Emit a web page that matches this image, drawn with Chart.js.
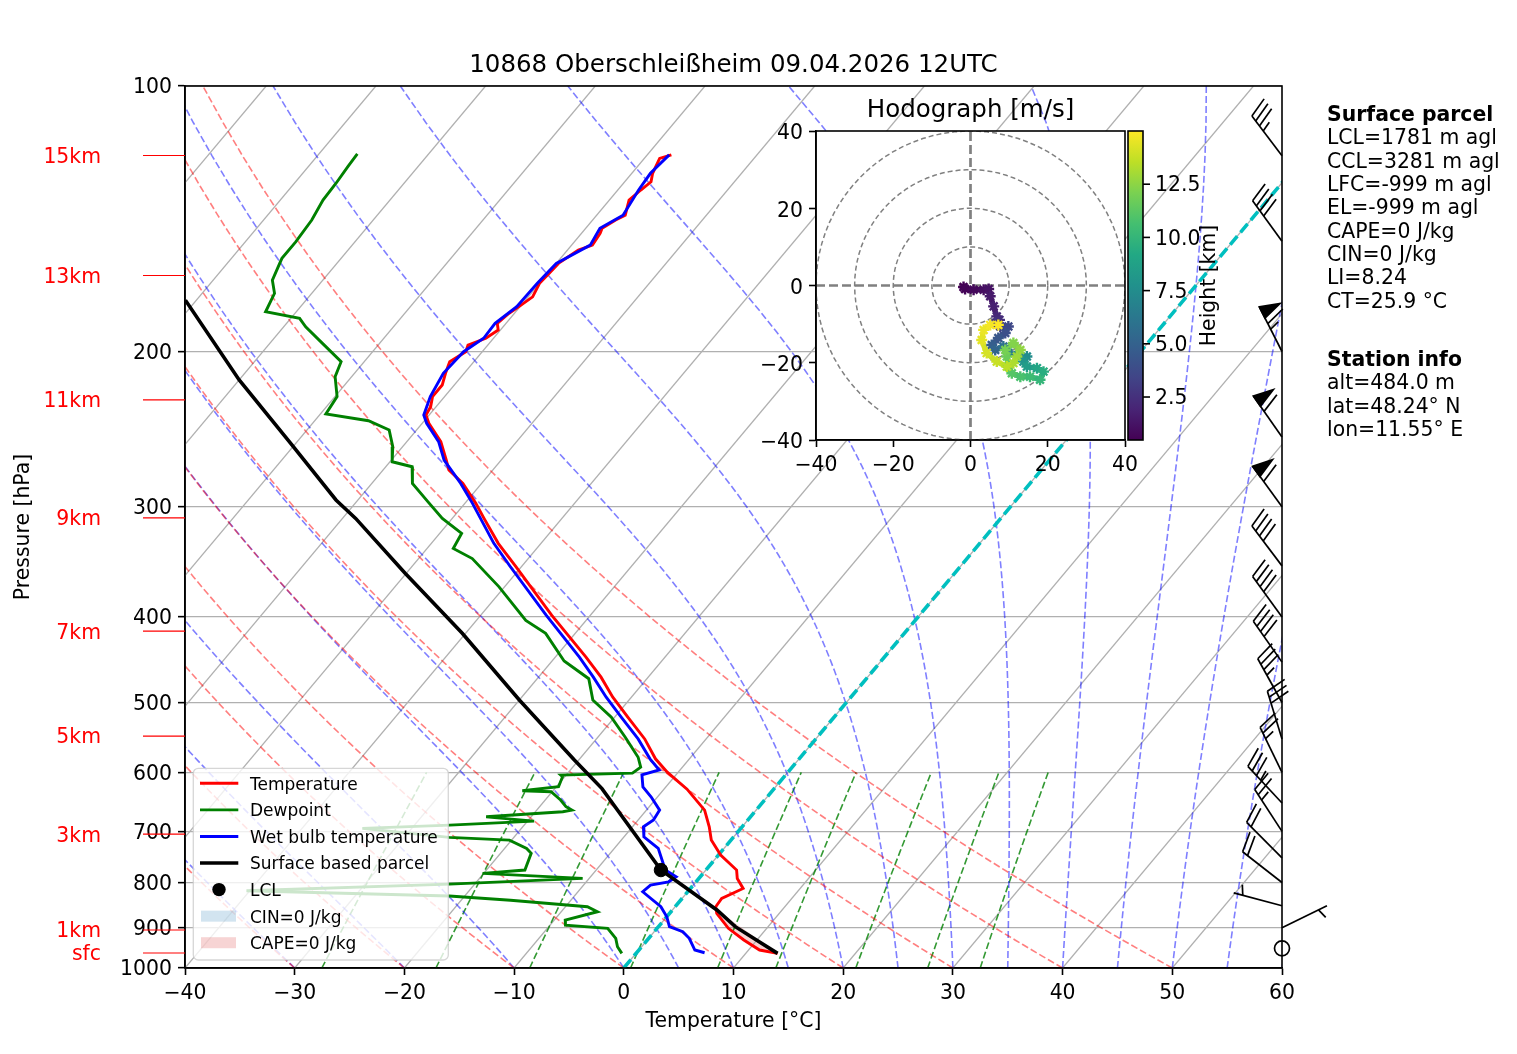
<!DOCTYPE html>
<html>
<head>
<meta charset="utf-8">
<script src="https://cdn.jsdelivr.net/npm/chart.js@4.4.1/dist/chart.umd.min.js"></script>
<style>
html, body { margin: 0; padding: 0; background: #fff; }
body { width: 1517px; height: 1054px; position: relative; overflow: hidden; font-family: 'DejaVu Sans', sans-serif; color: #000; }
#skewt { position: absolute; left: 0; top: 0; }
#hodo { position: absolute; left: 740px; top: 90px; }
.title { position: absolute; left: 0; width: 1467px; top: 52px; text-align: center; font-size: 24.5px; line-height: 24.5px; white-space: nowrap; }
.info { position: absolute; left: 1327px; font-size: 20.4px; line-height: 23.33px; white-space: pre; }
</style>
</head>
<body>
<canvas id="skewt" width="1517" height="1054"></canvas>
<canvas id="hodo" width="500" height="390"></canvas>
<div class="title">10868 Oberschleißheim 09.04.2026 12UTC</div>
<div class="info" style="top:103px"><b>Surface parcel</b>
LCL=1781 m agl
CCL=3281 m agl
LFC=-999 m agl
EL=-999 m agl
CAPE=0 J/kg
CIN=0 J/kg
LI=8.24
CT=25.9 °C</div>
<div class="info" style="top:348px"><b>Station info</b>
alt=484.0 m
lat=48.24° N
lon=11.55° E</div>

<script>
// ---- sounding data (pressure hPa / temperature °C) ----
const tempP = [119.7,120.8,125.6,128.4,131.2,134.7,140.1,141.9,145.0,146.9,151.5,153.5,158.9,163.1,167.4,173.4,177.9,181.1,185.8,189.1,193.2,196.7,200.1,205.4,211.7,218.3,225.0,231.0,236.0,241.2,253.1,265.5,272.5,282.2,297.3,309.2,330.0,350.8,398.4,444.2,468.0,493.1,519.6,549.9,579.2,599.8,627.0,662.2,691.7,716.1,744.7,774.4,791.5,812.5,833.7,852.2,867.1,901.6,929.5,954.1,962.5];
const tempT = [-57.8,-58.6,-58.1,-57.6,-57.9,-58.2,-57.4,-57.9,-58.5,-58.3,-58.1,-59.0,-59.8,-59.9,-60.0,-59.6,-60.1,-60.5,-60.8,-60.2,-60.7,-61.8,-61.5,-62.2,-61.7,-61.1,-61.1,-60.5,-60.3,-59.4,-56.9,-55.0,-54.0,-51.7,-49.0,-47.1,-43.9,-40.5,-33.5,-27.2,-24.3,-21.7,-18.8,-15.6,-13.1,-11.0,-7.9,-4.7,-3.0,-1.8,0.2,2.8,3.5,4.8,3.6,3.7,4.3,6.5,8.8,11.0,12.9];

const dewP = [119.4,123.4,128.9,134.7,141.9,150.2,156.8,166.0,171.8,180.3,183.4,187.5,195.8,205.4,213.6,225.0,235.4,239.6,245.5,256.4,266.7,270.2,282.2,296.0,309.2,321.5,334.5,343.4,369.7,403.5,417.4,448.7,469.9,496.8,519.6,547.5,576.8,592.1,601.3,604.2,606.9,623.0,629.5,631.1,645.0,656.3,662.1,665.1,673.9,681.5,688.6,694.6,711.1,716.1,731.8,741.4,774.4,781.1,791.4,803.3,817.4,828.8,838.0,852.2,863.4,882.4,894.0,901.7,925.5,946.0,962.5];
const dewT = [-86.5,-86.4,-86.2,-86.1,-85.6,-85.4,-85.4,-84.6,-83.4,-82.8,-79.2,-78.0,-75.2,-72.1,-71.5,-69.8,-69.5,-65.1,-62.5,-60.9,-59.8,-57.6,-56.3,-53.5,-50.9,-48.0,-47.6,-45.1,-40.5,-35.5,-32.7,-28.9,-25.3,-23.3,-20.3,-17.5,-14.8,-13.8,-14.1,-20.5,-20.2,-19.8,-22.8,-20.1,-18.6,-17.6,-16.8,-17.5,-24.1,-19.4,-26.8,-34.5,-25.9,-20.2,-18.0,-17.2,-16.5,-20.1,-10.6,-22.3,-40.3,-21.4,-15.5,-8.0,-6.7,-9.0,-8.6,-4.5,-3.0,-2.2,-1.3];

const wetP = [119.7,125.6,131.2,140.1,145.0,151.5,158.9,167.4,177.9,185.8,193.2,200.1,211.7,225.0,236.0,241.2,253.1,265.5,282.2,297.3,330.0,350.8,398.4,444.2,468.0,493.1,519.6,549.9,579.2,596.3,604.1,623.2,639.6,662.2,679.6,691.7,709.9,731.8,774.4,788.1,798.5,805.4,819.5,852.2,874.7,897.7,909.5,925.5,954.1,961.0];
const wetT = [-58.0,-58.3,-58.1,-57.6,-58.7,-58.3,-60.0,-60.2,-60.3,-61.0,-60.9,-61.7,-61.9,-61.3,-60.5,-59.6,-57.1,-55.2,-51.9,-49.3,-44.3,-41.0,-34.0,-27.8,-25.0,-22.3,-19.4,-16.2,-13.6,-11.9,-13.1,-12.1,-10.6,-8.8,-8.6,-9.0,-8.2,-6.0,-3.7,-2.2,-2.5,-3.9,-4.1,-1.3,0.0,1.0,2.6,3.7,5.1,6.2];

const parcelP = [962.5,897.7,860.0,774.4,626.0,581.0,496.8,417.4,356.8,309.2,294.7,255.3,215.4,174.9];
const parcelT = [12.9,7.0,4.1,-4.1,-15.7,-20.4,-30.0,-40.3,-50.1,-58.8,-62.0,-70.2,-80.0,-91.0];
const lclP = 774.4;
const lclT = -4.1;
const capeTopP = 860.0;

// ---- axes / reference lines ----
const pressureTicks = [100,200,300,400,500,600,700,800,900,1000];
const heightLabels = ['15km','13km','11km','9km','7km','5km','3km','1km','sfc'];
const heightLabelP = [119.9,164.0,226.9,308.8,415.1,545.8,705.2,905.6,961.6];
const isotherms = [-100,-90,-80,-70,-60,-50,-40,-30,-20,-10,0,10,20,30,40,50,60];
const dryT0 = [-40,-30,-20,-10,0,10,20,30,40,50];
const moistT0 = [-40,-30,-20,-10,0,5,10,15,20,25,30,35,40,45,50,55,60];
const mixRatios = [0.0004,0.001,0.002,0.004,0.007,0.01,0.016,0.024,0.032];

// ---- wind barbs ----
const windP = [120,150,200,250,300,350,400,450,500,550,600,650,700,750,800,850,900,950];
const windDir = [323,324,333,325,324,323,324,325,331,343,334,317,327,315,308,285,64,0];
const windKt = [35,40,65,60,60,40,40,40,35,30,25,35,25,20,20,5,5,0];

// ---- hodograph (m/s, km) ----
const hodoU = [-1.8,-1.4,0.8,3.4,4.7,5.1,6.0,6.8,7.5,6.4,7.7,9.8,9.0,7.2,5.5,6.4,8.5,9.8,12.4,14.6,13.7,14.6,17.2,18.9,18.0,15.4,12.9,10.7,9.8,9.4,9.0,11.1,12.9,12.0,11.1,9.4,6.8,4.2,2.9,3.4,5.1,7.2];
const hodoV = [-0.4,-0.9,-1.1,-1.1,-0.9,-2.8,-5.4,-8.0,-8.9,-9.7,-10.6,-10.6,-12.3,-13.6,-15.4,-16.7,-15.8,-17.5,-17.9,-18.4,-19.7,-21.0,-21.4,-22.3,-24.4,-23.6,-23.6,-22.7,-21.0,-18.4,-16.7,-14.9,-16.7,-18.4,-20.1,-21.0,-19.7,-17.5,-14.1,-11.5,-10.2,-10.2];
const hodoH = [0.48,0.6,0.8,1.0,1.2,1.5,1.8,2.1,2.4,2.8,3.2,3.6,4.0,4.4,4.8,5.2,5.8,6.4,7.0,7.5,8.0,8.5,9.0,9.5,10.0,10.4,10.8,11.1,11.4,11.7,12.0,12.3,12.6,12.9,13.2,13.5,13.8,14.1,14.4,14.6,14.8,15.0];
const hodoRings = [10,20,30,40];
const colorbarTicks = [2.5,5.0,7.5,10.0,12.5];

const legendLabels = ['Temperature','Dewpoint','Wet bulb temperature','Surface based parcel','LCL','CIN=0 J/kg','CAPE=0 J/kg'];

// ---------------------------------------------------------------
const SKEW = 67.4; // °C shift per decade of pressure
const TEXT_DY = 2;  // canvas text sits a little high compared with matplotlib

Chart.defaults.font.family = "'DejaVu Sans', sans-serif";
Chart.defaults.font.size = 20.4;
Chart.defaults.color = '#000';

function skewX(t, p) {
    return t + SKEW * Math.log10(1000 / p);
}

function profile(ps, ts) {
    return ps.map((p, i) => ({ x: skewX(ts[i], p), y: p }));
}

function minusSign(v) {
    return String(v).replace('-', '\u2212');
}

function satVap(tK) {
    const tc = tK - 273.15;
    return 6.112 * Math.exp(17.67 * tc / (tc + 243.5));
}

function moistGrad(p, tK) {
    const Rd = 287.04749, Lv = 2.50084e6, Cp = 1004.6662, eps = 0.62196;
    const e = satVap(tK);
    const rs = eps * e / (p - e);
    return (Rd * tK + Lv * rs) / (Cp + (Lv * Lv * rs * eps) / (Rd * tK * tK)) / p;
}

function moistLine(t0) {
    const pts = [];
    let t = t0 + 273.15;
    const h = -10;
    for (let p = 1000; p >= 100; p += h) {
        pts.push({ x: skewX(t - 273.15, p), y: p });
        const k1 = moistGrad(p, t);
        const k2 = moistGrad(p + h / 2, t + h / 2 * k1);
        const k3 = moistGrad(p + h / 2, t + h / 2 * k2);
        const k4 = moistGrad(p + h, t + h * k3);
        t += h / 6 * (k1 + 2 * k2 + 2 * k3 + k4);
    }
    return pts;
}

function dryLine(t0) {
    const pts = [];
    for (let p = 1000; p >= 100; p -= 10) {
        const t = (t0 + 273.15) * Math.pow(p / 1000, 0.2857) - 273.15;
        pts.push({ x: skewX(t, p), y: p });
    }
    return pts;
}

function mixLine(w) {
    const pts = [];
    for (let p = 1000; p >= 600; p -= 20) {
        const e = p * w / (0.62196 + w);
        const l = Math.log(e / 6.112);
        const td = 243.5 * l / (17.67 - l);
        pts.push({ x: skewX(td, p), y: p });
    }
    return pts;
}

function lineSet(data, color, width, dash, order) {
    return {
        data: data,
        borderColor: color,
        borderWidth: width,
        borderDash: dash,
        pointRadius: 0,
        fill: false,
        order: order
    };
}

// ---- main skew-T datasets ----
const skewSets = [];
isotherms.forEach(t => {
    skewSets.push(lineSet([{ x: skewX(t, 1000), y: 1000 }, { x: skewX(t, 100), y: 100 }], '#b0b0b0', 1.3, [], 20));
});
dryT0.forEach(t => skewSets.push(lineSet(dryLine(t), 'rgba(255,0,0,0.5)', 1.6, [7, 3], 15)));
moistT0.forEach(t => skewSets.push(lineSet(moistLine(t), 'rgba(0,0,255,0.5)', 1.6, [7, 3], 15)));
mixRatios.forEach(w => skewSets.push(lineSet(mixLine(w), 'rgba(0,128,0,0.8)', 1.6, [7, 3], 15)));
skewSets.push(lineSet([{ x: skewX(0, 1000), y: 1000 }, { x: skewX(0, 100), y: 100 }], '#00bfbf', 3.6, [11, 5], 10));
skewSets.push(lineSet(profile(tempP, tempT), '#ff0000', 2.9, [], 4));
skewSets.push(lineSet(profile(dewP, dewT), '#008000', 2.9, [], 3));
skewSets.push(lineSet(profile(wetP, wetT), '#0000ff', 2.9, [], 2));
skewSets.push(lineSet(profile(parcelP, parcelT), '#000000', 3.6, [], 1));
skewSets.push({
    data: [{ x: skewX(lclT, lclP), y: lclP }],
    showLine: false,
    pointRadius: 6.7,
    pointBackgroundColor: '#000',
    pointBorderColor: '#000',
    order: 0
});

const capeShade = {
    id: 'capeShade',
    beforeDatasetsDraw(chart) {
        const xs = chart.scales.x, ys = chart.scales.y, ctx = chart.ctx;
        const poly = [];
        parcelP.forEach((p, i) => { if (p >= capeTopP) poly.push([skewX(parcelT[i], p), p]); });
        for (let i = tempP.length - 1; i >= 0; i--) {
            if (tempP[i] >= capeTopP) poly.push([skewX(tempT[i], tempP[i]), tempP[i]]);
        }
        ctx.save();
        ctx.fillStyle = 'rgba(214,39,40,0.2)';
        ctx.beginPath();
        poly.forEach(([x, p], i) => {
            const px = xs.getPixelForValue(x), py = ys.getPixelForValue(p);
            if (i === 0) ctx.moveTo(px, py); else ctx.lineTo(px, py);
        });
        ctx.closePath();
        ctx.fill();
        ctx.restore();
    }
};

const frame = {
    id: 'frame',
    afterDatasetsDraw(chart) {
        const { ctx, chartArea: a } = chart;
        ctx.save();
        ctx.strokeStyle = '#000';
        ctx.lineWidth = 1.6;
        ctx.strokeRect(a.left, a.top, a.right - a.left, a.bottom - a.top);
        ctx.restore();
    }
};

const heightAxis = {
    id: 'heightAxis',
    afterDraw(chart) {
        const ctx = chart.ctx, ys = chart.scales.y;
        ctx.save();
        ctx.fillStyle = '#ff0000';
        ctx.strokeStyle = '#ff0000';
        ctx.lineWidth = 1.2;
        ctx.font = "20.4px 'DejaVu Sans'";
        ctx.textAlign = 'right';
        ctx.textBaseline = 'middle';
        heightLabels.forEach((lab, i) => {
            const y = ys.getPixelForValue(heightLabelP[i]);
            ctx.beginPath();
            ctx.moveTo(143, y);
            ctx.lineTo(chart.chartArea.left, y);
            ctx.stroke();
            ctx.fillText(lab, 101, y + TEXT_DY);
        });
        ctx.restore();
    }
};

function drawBarb(ctx, bx, by, kt, dir) {
    const L = 50, fh = 0.4 * L, fw = 0.25 * L, sp = 0.125 * L;
    ctx.beginPath();
    if (kt < 2.5) {
        ctx.arc(bx, by, 0.15 * L, 0, Math.PI * 2);
        ctx.stroke();
        return;
    }
    const a = dir * Math.PI / 180;
    const dx = Math.sin(a), dy = -Math.cos(a);
    const nx = -dy, ny = dx;
    const pt = (off, h) => [bx + dx * off + nx * h, by + dy * off + ny * h];
    const r = Math.round(kt / 5) * 5;
    const flags = Math.floor(r / 50);
    const barbs = Math.floor((r - flags * 50) / 10);
    const half = (r - flags * 50 - barbs * 10) >= 5;
    ctx.moveTo(bx, by);
    ctx.lineTo(...pt(L, 0));
    ctx.stroke();
    let off = L;
    for (let i = 0; i < flags; i++) {
        if (off !== L) off += sp / 2;
        ctx.beginPath();
        ctx.moveTo(...pt(off, 0));
        ctx.lineTo(...pt(off - fw / 2, fh));
        ctx.lineTo(...pt(off - fw, 0));
        ctx.closePath();
        ctx.fill();
        ctx.stroke();
        off -= fw + sp;
    }
    for (let i = 0; i < barbs; i++) {
        ctx.beginPath();
        ctx.moveTo(...pt(off, 0));
        ctx.lineTo(...pt(off + fw / 2, fh));
        ctx.stroke();
        off -= sp;
    }
    if (half) {
        if (off === L) off -= 1.5 * sp;
        ctx.beginPath();
        ctx.moveTo(...pt(off, 0));
        ctx.lineTo(...pt(off + fw / 4, fh / 2));
        ctx.stroke();
    }
}

const windBarbs = {
    id: 'windBarbs',
    afterDraw(chart) {
        const ctx = chart.ctx, ys = chart.scales.y;
        ctx.save();
        ctx.strokeStyle = '#000';
        ctx.fillStyle = '#000';
        ctx.lineWidth = 1.7;
        windP.forEach((p, i) => drawBarb(ctx, chart.chartArea.right, ys.getPixelForValue(p), windKt[i], windDir[i]));
        ctx.restore();
    }
};

const legendBox = {
    id: 'legendBox',
    afterDraw(chart) {
        const ctx = chart.ctx;
        const styles = [
            { kind: 'line', color: '#ff0000', width: 2.9 },
            { kind: 'line', color: '#008000', width: 2.9 },
            { kind: 'line', color: '#0000ff', width: 2.9 },
            { kind: 'line', color: '#000000', width: 3.6 },
            { kind: 'dot', color: '#000000' },
            { kind: 'patch', color: 'rgba(31,119,180,0.2)' },
            { kind: 'patch', color: 'rgba(214,39,40,0.2)' }
        ];
        ctx.save();
        ctx.beginPath();
        ctx.roundRect(193.3, 768.3, 255, 191.7, 5);
        ctx.fillStyle = 'rgba(255,255,255,0.8)';
        ctx.fill();
        ctx.strokeStyle = 'rgba(204,204,204,0.8)';
        ctx.lineWidth = 1.3;
        ctx.stroke();
        ctx.font = "17px 'DejaVu Sans'";
        ctx.textBaseline = 'middle';
        legendLabels.forEach((lab, i) => {
            const y = 783.3 + i * 26.57;
            const s = styles[i];
            if (s.kind === 'line') {
                ctx.beginPath();
                ctx.moveTo(200, y);
                ctx.lineTo(238.3, y);
                ctx.strokeStyle = s.color;
                ctx.lineWidth = s.width;
                ctx.stroke();
            } else if (s.kind === 'dot') {
                ctx.beginPath();
                ctx.arc(219, y, 6.7, 0, Math.PI * 2);
                ctx.fillStyle = s.color;
                ctx.fill();
            } else {
                ctx.fillStyle = s.color;
                ctx.fillRect(201, y - 5.5, 35, 11);
            }
            ctx.fillStyle = '#000';
            ctx.fillText(lab, 250, y + TEXT_DY);
        });
        ctx.restore();
    }
};

new Chart(document.getElementById('skewt'), {
    type: 'line',
    data: { datasets: skewSets },
    options: {
        responsive: false,
        animation: false,
        events: [],
        layout: { padding: { left: 0, right: 235, top: 86, bottom: 0 } },
        plugins: { legend: { display: false }, tooltip: { enabled: false } },
        elements: { line: { tension: 0 } },
        scales: {
            x: {
                type: 'linear', min: -40, max: 60,
                ticks: { stepSize: 10, padding: 6, color: '#000', callback: v => minusSign(v) },
                grid: { drawOnChartArea: false, tickLength: 7, tickColor: '#000', tickWidth: 1.6 },
                border: { color: '#000', width: 1.6 },
                title: { display: true, text: 'Temperature [°C]', color: '#000', padding: { top: 0, bottom: 20 } },
                afterFit: s => { s.height = 86; }
            },
            y: {
                type: 'logarithmic', min: 100, max: 1000, reverse: true,
                afterBuildTicks: s => { s.ticks = pressureTicks.map(v => ({ value: v })); },
                ticks: { padding: 6, color: '#000', autoSkip: false, labelOffset: TEXT_DY, callback: v => pressureTicks.includes(v) ? String(v) : '' },
                grid: { color: '#b0b0b0', lineWidth: 1.3, tickLength: 7, tickColor: '#000', tickWidth: 1.6 },
                border: { color: '#000', width: 1.6 },
                title: { display: true, text: 'Pressure [hPa]', color: '#000', padding: { top: 11, bottom: 0 } },
                afterFit: s => { s.width = 185; }
            }
        }
    },
    plugins: [capeShade, frame, heightAxis, windBarbs, legendBox]
});

// ---- hodograph ----
const viridis = ['#440154','#482475','#414487','#355f8d','#2a788e','#21918c','#22a884','#44bf70','#7ad151','#bddf26','#fde725'];
const hMin = Math.min(...hodoH), hMax = Math.max(...hodoH);

function hexRgb(h) {
    return [parseInt(h.slice(1, 3), 16), parseInt(h.slice(3, 5), 16), parseInt(h.slice(5, 7), 16)];
}

function viridisAt(f) {
    f = Math.min(1, Math.max(0, f));
    const x = f * 10, i = Math.min(9, Math.floor(x)), t = x - i;
    const a = hexRgb(viridis[i]), b = hexRgb(viridis[i + 1]);
    return 'rgb(' + a.map((c, k) => Math.round(c + (b[k] - c) * t)).join(',') + ')';
}

const hodoColors = hodoH.map(h => viridisAt((h - hMin) / (hMax - hMin)));

function ring(r) {
    const pts = [];
    for (let a = 0; a <= 360; a += 4) {
        pts.push({ x: r * Math.cos(a * Math.PI / 180), y: r * Math.sin(a * Math.PI / 180) });
    }
    return pts;
}

const hodoSets = [];
hodoRings.forEach(r => hodoSets.push(lineSet(ring(r), '#808080', 1.5, [5, 3], 5)));
hodoSets.push(lineSet([{ x: -40, y: 0 }, { x: 40, y: 0 }], '#808080', 2.7, [9, 4], 5));
hodoSets.push(lineSet([{ x: 0, y: -40 }, { x: 0, y: 40 }], '#808080', 2.7, [9, 4], 5));
hodoSets.push({
    data: hodoU.map((u, i) => ({ x: u, y: hodoV[i] })),
    borderWidth: 5.5,
    segment: { borderColor: c => hodoColors[c.p0DataIndex] },
    pointStyle: 'star',
    pointRadius: 5.5,
    pointBorderWidth: 2.4,
    pointBorderColor: hodoColors,
    pointBackgroundColor: hodoColors,
    fill: false,
    order: 0
});

const hodoDecor = {
    id: 'hodoDecor',
    beforeDraw(chart) {
        const { ctx, chartArea: a } = chart;
        ctx.save();
        ctx.fillStyle = '#fff';
        ctx.fillRect(a.left, a.top, a.right - a.left, a.bottom - a.top);
        ctx.restore();
    },
    afterDraw(chart) {
        const { ctx, chartArea: a } = chart;
        ctx.save();
        ctx.strokeStyle = '#000';
        ctx.lineWidth = 1.6;
        ctx.strokeRect(a.left, a.top, a.right - a.left, a.bottom - a.top);

        ctx.fillStyle = '#000';
        ctx.font = "24.5px 'DejaVu Sans'";
        ctx.textAlign = 'center';
        ctx.textBaseline = 'alphabetic';
        ctx.fillText('Hodograph [m/s]', (a.left + a.right) / 2, 27.3);

        // colorbar
        const cl = 388, cr = 403;
        const g = ctx.createLinearGradient(0, a.bottom, 0, a.top);
        viridis.forEach((c, i) => g.addColorStop(i / 10, c));
        ctx.fillStyle = g;
        ctx.fillRect(cl, a.top, cr - cl, a.bottom - a.top);
        ctx.strokeRect(cl, a.top, cr - cl, a.bottom - a.top);
        ctx.fillStyle = '#000';
        ctx.font = "20.4px 'DejaVu Sans'";
        ctx.textAlign = 'left';
        ctx.textBaseline = 'middle';
        colorbarTicks.forEach(v => {
            const y = a.bottom - (v - hMin) / (hMax - hMin) * (a.bottom - a.top);
            ctx.beginPath();
            ctx.moveTo(cr, y);
            ctx.lineTo(cr + 7, y);
            ctx.stroke();
            ctx.fillText(v.toFixed(1), cr + 12, y + TEXT_DY);
        });
        ctx.translate(470, (a.top + a.bottom) / 2);
        ctx.rotate(-Math.PI / 2);
        ctx.textAlign = 'center';
        ctx.fillText('Height [km]', 0, 0);
        ctx.restore();
    }
};

new Chart(document.getElementById('hodo'), {
    type: 'line',
    data: { datasets: hodoSets },
    options: {
        responsive: false,
        animation: false,
        events: [],
        layout: { padding: { left: 0, right: 115, top: 41, bottom: 0 } },
        plugins: { legend: { display: false }, tooltip: { enabled: false } },
        scales: {
            x: {
                type: 'linear', min: -40, max: 40,
                ticks: { stepSize: 20, padding: 6, color: '#000', callback: v => minusSign(v) },
                grid: { drawOnChartArea: false, tickLength: 7, tickColor: '#000', tickWidth: 1.6 },
                border: { color: '#000', width: 1.6 },
                afterFit: s => { s.height = 40; }
            },
            y: {
                type: 'linear', min: -40, max: 40,
                ticks: { stepSize: 20, padding: 6, color: '#000', labelOffset: 3, callback: v => minusSign(v) },
                grid: { drawOnChartArea: false, tickLength: 7, tickColor: '#000', tickWidth: 1.6 },
                border: { color: '#000', width: 1.6 },
                afterFit: s => { s.width = 76; }
            }
        }
    },
    plugins: [hodoDecor]
});
</script>
</body>
</html>
